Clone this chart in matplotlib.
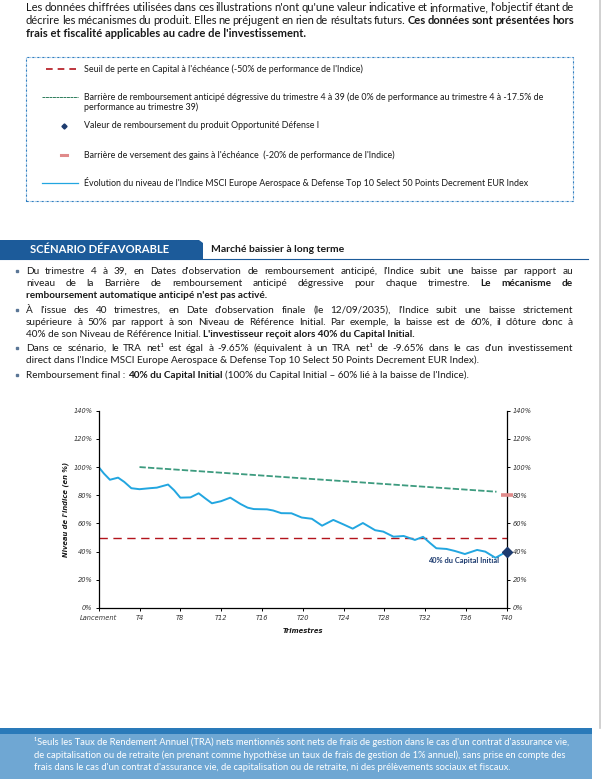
import matplotlib
matplotlib.use("Agg")
import matplotlib.pyplot as plt
from matplotlib.lines import Line2D
from matplotlib.patches import Rectangle, Polygon

W, H = 602, 779
FONT = "Lato"
TXT = "#1a1a1a"
NAVY = "#1d3b6f"
BLUE_IDX = "#22a6e0"
GREEN = "#3d9b7f"
RED = "#b3141c"
PINK = "#e08a8a"

# index level (quarter, % of initial level)
quarters = [0, 0.5, 1.1, 1.9, 2.5, 3.2, 4.0, 5.0, 5.7, 6.8, 7.4, 8.0, 9.0, 9.8, 10.5,
            11.1, 12.0, 12.9, 13.9, 14.6, 15.2, 16.5, 17.1, 17.9, 18.9, 19.9, 20.9,
            21.9, 23.0, 24.0, 24.9, 25.9, 27.1, 27.9, 28.9, 29.9, 31.0, 31.8, 32.5,
            33.1, 34.1, 34.9, 35.9, 37.1, 37.9, 38.9, 40]
index_level = [100, 95.5, 91, 92.5, 89.5, 85, 84.3, 85, 85.4, 87.6, 83.5, 78.3, 78.5,
               81.4, 77.5, 74.3, 75.8, 78.3, 73.8, 71.2, 70.2, 70, 69.2, 67.3, 67.2,
               64.2, 63.3, 58.4, 62.5, 59.3, 56.3, 60.3, 55.2, 54.2, 50.6, 51.1, 48.3,
               50.5, 46, 42.4, 41.9, 40.5, 38.3, 41.2, 40.0, 35.6, 40]
barrier_q = [4, 39]
barrier_level = [100, 82.5]
loss_q = [0, 40]
loss_level = [50, 50]
gain_barrier = 80
final_value = 40
xtick_pos = list(range(0, 41, 4))
xtick_labels = ["Lancement"] + ["T%d" % q for q in range(4, 41, 4)]
ytick_vals = list(range(0, 141, 20))
ytick_labels = ["%d%%" % v for v in ytick_vals]

fig = plt.figure(figsize=(W / 100, H / 100), dpi=100)
fig.patch.set_facecolor("white")
renderer = fig.canvas.get_renderer()


def fx(x):
    return x / W


def fy(y):
    return 1 - y / H


def text_width(s, size, weight="normal"):
    t = fig.text(0, 0, s, fontsize=size, fontweight=weight, family=FONT)
    w = t.get_window_extent(renderer).width
    t.remove()
    return w


def space_width(size):
    return text_width("a a", size) - text_width("aa", size)


def words_of(segs):
    out = []
    for s, weight in segs:
        for w in s.split():
            out.append((w, weight))
    return out


def natural_width(segs, size):
    sp = space_width(size)
    return sum(text_width(s, size, wt) for s, wt in segs) + sp * (len(segs) - 1)


def fit_size(segs, target):
    return 10 * target / natural_width(segs, 10)


def put(x, y, s, size, weight, color):
    fig.text(fx(x), fy(y), s, fontsize=size, fontweight=weight, family=FONT,
             color=color, va="baseline", ha="left")


def draw_line(y, segs, x0, size, x1=None, color=TXT):
    if x1 is None:
        # ragged line: whole segments, natural spacing
        sp = space_width(size)
        x = x0
        for s, wt in segs:
            put(x, y, s, size, wt, color)
            x += text_width(s, size, wt) + sp
        return
    ws = words_of(segs)
    widths = [text_width(w, size, wt) for w, wt in ws]
    sp = (x1 - x0 - sum(widths)) / (len(ws) - 1)
    x = x0
    for (w, wt), wd in zip(ws, widths):
        put(x, y, w, size, wt, color)
        x += wd + sp


N, B = "normal", "bold"

# ---- top paragraph ----
top_lines = [
    [("Les données chiffrées utilisées dans ces illustrations n'ont qu'une valeur indicative et informative, l'objectif étant de", N)],
    [("décrire les mécanismes du produit. Elles ne préjugent en rien de résultats futurs.", N),
     ("Ces données sont présentées hors", B)],
    [("frais et fiscalité applicables au cadre de l'investissement.", B)],
]
s_top = fit_size(top_lines[2], 278)
draw_line(11, top_lines[0], 26, s_top, 574)
draw_line(24, top_lines[1], 26, s_top, 574)
draw_line(37, top_lines[2], 26, s_top)

# ---- legend box ----
fig.add_artist(Rectangle((fx(26), fy(201)), (573 - 26) / W, (201 - 57) / H,
                         transform=fig.transFigure, fill=False, ec="#2f7fc1",
                         lw=0.8, ls=(0, (2, 1, 0.5, 1))))
leg_rows = [
    (69, [("Seuil de perte en Capital à l'échéance (-50% de performance de l'Indice)", N)]),
    (97, [("Barrière de remboursement anticipé dégressive du trimestre 4 à 39 (de 0% de performance au trimestre 4 à -17.5% de", N)]),
    (108, [("performance au trimestre 39)", N)]),
    (126, [("Valeur de remboursement du produit Opportunité Défense I", N)]),
    (155, [("Barrière de versement des gains à l'échéance  (-20% de performance de l'Indice)", N)]),
    (183, [("Évolution du niveau de l'Indice MSCI Europe Aerospace & Defense Top 10 Select 50 Points Decrement EUR Index", N)]),
]
s_leg = fit_size(leg_rows[5][1], 531 - 84)
for yy, segs in leg_rows:
    draw_line(yy + 2.5, segs, 84, s_leg)

fig.add_artist(Line2D([fx(46), fx(76)], [fy(69), fy(69)], transform=fig.transFigure,
                      color=RED, lw=1.2, dashes=(4, 3)))
fig.add_artist(Line2D([fx(42), fx(78)], [fy(97), fy(97)], transform=fig.transFigure,
                      color="#2e7d5b", lw=0.7, dashes=(3, 0.6)))
fig.add_artist(Line2D([fx(64)], [fy(126)], transform=fig.transFigure,
                      color=NAVY, marker="D", ms=2.6, lw=0))
fig.add_artist(Line2D([fx(61), fx(67)], [fy(155), fy(155)], transform=fig.transFigure,
                      color=PINK, lw=2.2))
fig.add_artist(Line2D([fx(42), fx(78)], [fy(183), fy(183)], transform=fig.transFigure,
                      color=BLUE_IDX, lw=0.9))

# ---- scenario header ----
fig.add_artist(Polygon([(fx(0), fy(259)), (fx(0), fy(240)), (fx(199), fy(240)),
                        (fx(203), fy(243)), (fx(203), fy(259))],
                       closed=True, transform=fig.transFigure, fc="#1c5b9a", ec="none"))
fig.add_artist(Line2D([fx(0), fx(588)], [fy(259), fy(259)], transform=fig.transFigure,
                      color="#1c5b9a", lw=0.8))
s_hdr = fit_size([("SCÉNARIO DÉFAVORABLE", B)], 139)
draw_line(253, [("SCÉNARIO DÉFAVORABLE", B)], 30, s_hdr, color="white")
s_sub = fit_size([("Marché baissier à long terme", B)], 134)
draw_line(252.5, [("Marché baissier à long terme", B)], 211, s_sub)

# ---- bullets ----
bullets = [
    [(271, [("Du trimestre 4 à 39, en Dates d'observation de remboursement anticipé, l'Indice subit une baisse par rapport au", N)], True),
     (283, [("niveau de la Barrière de remboursement anticipé dégressive pour chaque trimestre.", N), ("Le mécanisme de", B)], True),
     (295, [("remboursement automatique anticipé n'est pas activé.", B)], False)],
    [(310, [("À l'issue des 40 trimestres, en Date d'observation finale (le 12/09/2035), l'Indice subit une baisse strictement", N)], True),
     (322, [("supérieure à 50% par rapport à son Niveau de Référence Initial. Par exemple, la baisse est de 60%, il clôture donc à", N)], True),
     (334, [("40% de son Niveau de Référence Initial.", N), ("L'investisseur reçoit alors 40% du Capital Initial.", B)], False)],
    [(348, [("Dans ce scénario, le TRA net¹ est égal à -9.65% (équivalent à un TRA net¹ de -9.65% dans le cas d'un investissement", N)], True),
     (360, [("direct dans l'Indice MSCI Europe Aerospace & Defense Top 10 Select 50 Points Decrement EUR Index).", N)], False)],
    [(375, [("Remboursement final :", N), ("40% du Capital Initial", B),
            ("(100% du Capital Initial – 60% lié à la baisse de l'Indice).", N)], False)],
]
s_bul = fit_size(bullets[3][0][1], 445)
for group in bullets:
    first = group[0][0]
    fig.add_artist(Line2D([fx(17)], [fy(first)], transform=fig.transFigure,
                          color="#5a7696", marker="s", ms=1.8, lw=0))
    for yy, segs, just in group:
        draw_line(yy + 3, segs, 26, s_bul, 573 if just else None)

# ---- chart ----
ax = fig.add_axes([fx(98.7), fy(608), (506.7 - 98.7) / W, (608 - 410.7) / H])
ax.set_xlim(0, 40)
ax.set_ylim(0, 140)
ax.plot(loss_q, loss_level, color=RED, lw=1.0, dashes=(6, 4), clip_on=False)
ax.plot(barrier_q, barrier_level, color=GREEN, lw=1.3, dashes=(3.5, 1.2))
ax.plot(quarters, index_level, color=BLUE_IDX, lw=1.4, solid_joinstyle="round",
        solid_capstyle="round")
ax.plot([40], [gain_barrier], marker="_", ms=8, mew=2.6, color=PINK, clip_on=False, zorder=5)
ax.plot([40], [final_value], marker="D", ms=5, color=NAVY, clip_on=False, zorder=6)
ax.text(39.2, 33.6, "40% du Capital Initial", ha="right", va="center", fontsize=5.4,
        fontweight="bold", color=NAVY, family=FONT)

ax.spines["top"].set_visible(False)
for side in ["left", "right", "bottom"]:
    ax.spines[side].set_linewidth(0.9)
    ax.spines[side].set_color("black")

tick_font = dict(fontsize=4.8, fontstyle="italic", color="#333333", family="DejaVu Sans")
ax.set_yticks(ytick_vals, labels=ytick_labels, **tick_font)
ax.set_xticks(xtick_pos, labels=xtick_labels, **tick_font)
ax.tick_params(axis="y", left=True, right=True, labelleft=True, labelright=True,
               direction="out", length=2.5, width=0.7, pad=2)
ax.tick_params(axis="x", direction="out", length=2.5, width=0.7, pad=2.5)

fig.text(fx(66), fy(509), "Niveau de l'indice (en %)", rotation=90, ha="center",
         va="center", fontsize=4.9, fontweight="bold", fontstyle="italic", color=TXT)
fig.text(fx(303), fy(631), "Trimestres", ha="center", va="center", fontsize=4.9,
         fontweight="bold", fontstyle="italic", color=TXT)

# ---- page edge ----
fig.add_artist(Line2D([fx(600), fx(600)], [fy(0), fy(728)], transform=fig.transFigure,
                      color="#c8c8c8", lw=1.2))

# ---- footer ----
fig.add_artist(Rectangle((fx(0), fy(779)), 592 / W, (779 - 733) / H,
                         transform=fig.transFigure, fc="#6fa7d3", ec="none"))
fig.add_artist(Rectangle((fx(0), fy(734)), 592 / W, 6 / H,
                         transform=fig.transFigure, fc="#2a7ab9", ec="none"))
foot_lines = [
    [("¹Seuls les Taux de Rendement Annuel (TRA) nets mentionnés sont nets de frais de gestion dans le cas d'un contrat d'assurance vie,", N)],
    [("de capitalisation ou de retraite (en prenant comme hypothèse un taux de frais de gestion de 1% annuel), sans prise en compte des", N)],
    [("frais dans le cas d'un contrat d'assurance vie, de capitalisation ou de retraite, ni des prélèvements sociaux et fiscaux.", N)],
]
s_foot = fit_size(foot_lines[0], 567 - 34)
for yy, segs in zip([745, 757.5, 770], foot_lines):
    draw_line(yy, segs, 34, s_foot, color="white")

fig.savefig("out.png", dpi=100, facecolor="white")
